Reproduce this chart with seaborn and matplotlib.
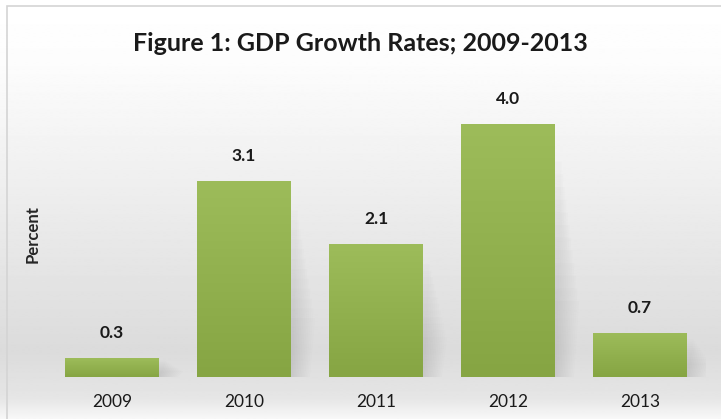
import numpy as np
import pandas as pd
import seaborn as sns
import matplotlib.pyplot as plt
from matplotlib.colors import LinearSegmentedColormap
from matplotlib.patches import Rectangle, Polygon

years = ['2009', '2010', '2011', '2012', '2013']
growth = [0.3, 3.1, 2.1, 4.0, 0.7]

title = 'Figure 1: GDP Growth Rates; 2009-2013'
ylabel = 'Percent'

sns.set_style('white')
plt.rcParams['font.family'] = ['Lato', 'DejaVu Sans']

df = pd.DataFrame({'year': years, 'growth': growth})

fig = plt.figure(figsize=(7.21, 4.19), dpi=100)

## background gradient (white top, grey near baseline, lighter at bottom)
bg = fig.add_axes([0, 0, 1, 1], zorder=-10)
rows = np.linspace(0, 1, 400)
shade = np.interp(rows, [0, 0.05, 0.16, 0.85, 1.0], [0.97, 0.90, 0.86, 0.99, 1.0])
bg.imshow(shade[:, None], aspect='auto', cmap='gray', vmin=0, vmax=1,
          extent=[0, 1, 0, 1], origin='lower', interpolation='bilinear')
bg.set_xlim(0, 1)
bg.set_ylim(0, 1)
bg.axis('off')
# light frame on top / left
bg.add_patch(Rectangle((7 / 721, -0.1), 1.2, (419 - 6) / 419 + 0.1,
                       fill=False, edgecolor='#d4d4d4', lw=1.2))

ax = fig.add_axes([0.0638, 0.1002, 0.9154, 0.68])
ax.patch.set_alpha(0)

sns.barplot(data=df, x='year', y='growth', color='#93b552', width=0.71,
            saturation=1, ax=ax, zorder=3, edgecolor='none', linewidth=0)

green = LinearSegmentedColormap.from_list('g', ['#86a543', '#9dbc5a'])
grad = np.linspace(0, 1, 100)[:, None]
for p in list(ax.patches):
    x0, y0 = p.get_x(), p.get_y()
    w, h = p.get_width(), p.get_height()
    # soft perspective shadow to the right, fading outwards and upwards
    for i in range(12):
        d = 0.012 * (i + 1)
        top = h * (0.85 - 0.05 * i)
        ax.add_patch(Polygon([(x0 + w * 0.5, y0), (x0 + w + d, y0),
                              (x0 + w + d + 0.04, top),
                              (x0 + w * 0.5, top)],
                             closed=True, facecolor='#7a7a7a', alpha=0.02,
                             lw=0, zorder=2))
    im = ax.imshow(grad, aspect='auto', cmap=green, origin='lower',
                   extent=[x0, x0 + w, y0, y0 + h], zorder=4)
    im.set_clip_path(p)
    ax.text(x0 + w / 2, y0 + h + 0.27, f'{h:.1f}', ha='center', va='bottom',
            fontsize=12.5, fontweight='bold', color='#1a1a1a', zorder=5)

ax.set_xlim(-0.5, 4.5)
ax.set_ylim(0, 4.5)
ax.set_yticks([])
ax.set_xlabel('')
ax.set_ylabel(ylabel, fontsize=12, fontweight='bold', labelpad=4)
ax.tick_params(axis='x', length=0, labelsize=12.5, pad=12, colors='#1a1a1a')
sns.despine(ax=ax, left=True, bottom=True)

fig.text(0.5, 0.895, title, ha='center', va='center', fontsize=18,
         fontweight='bold', color='#1a1a1a')

fig.savefig('out.png', dpi=100)
